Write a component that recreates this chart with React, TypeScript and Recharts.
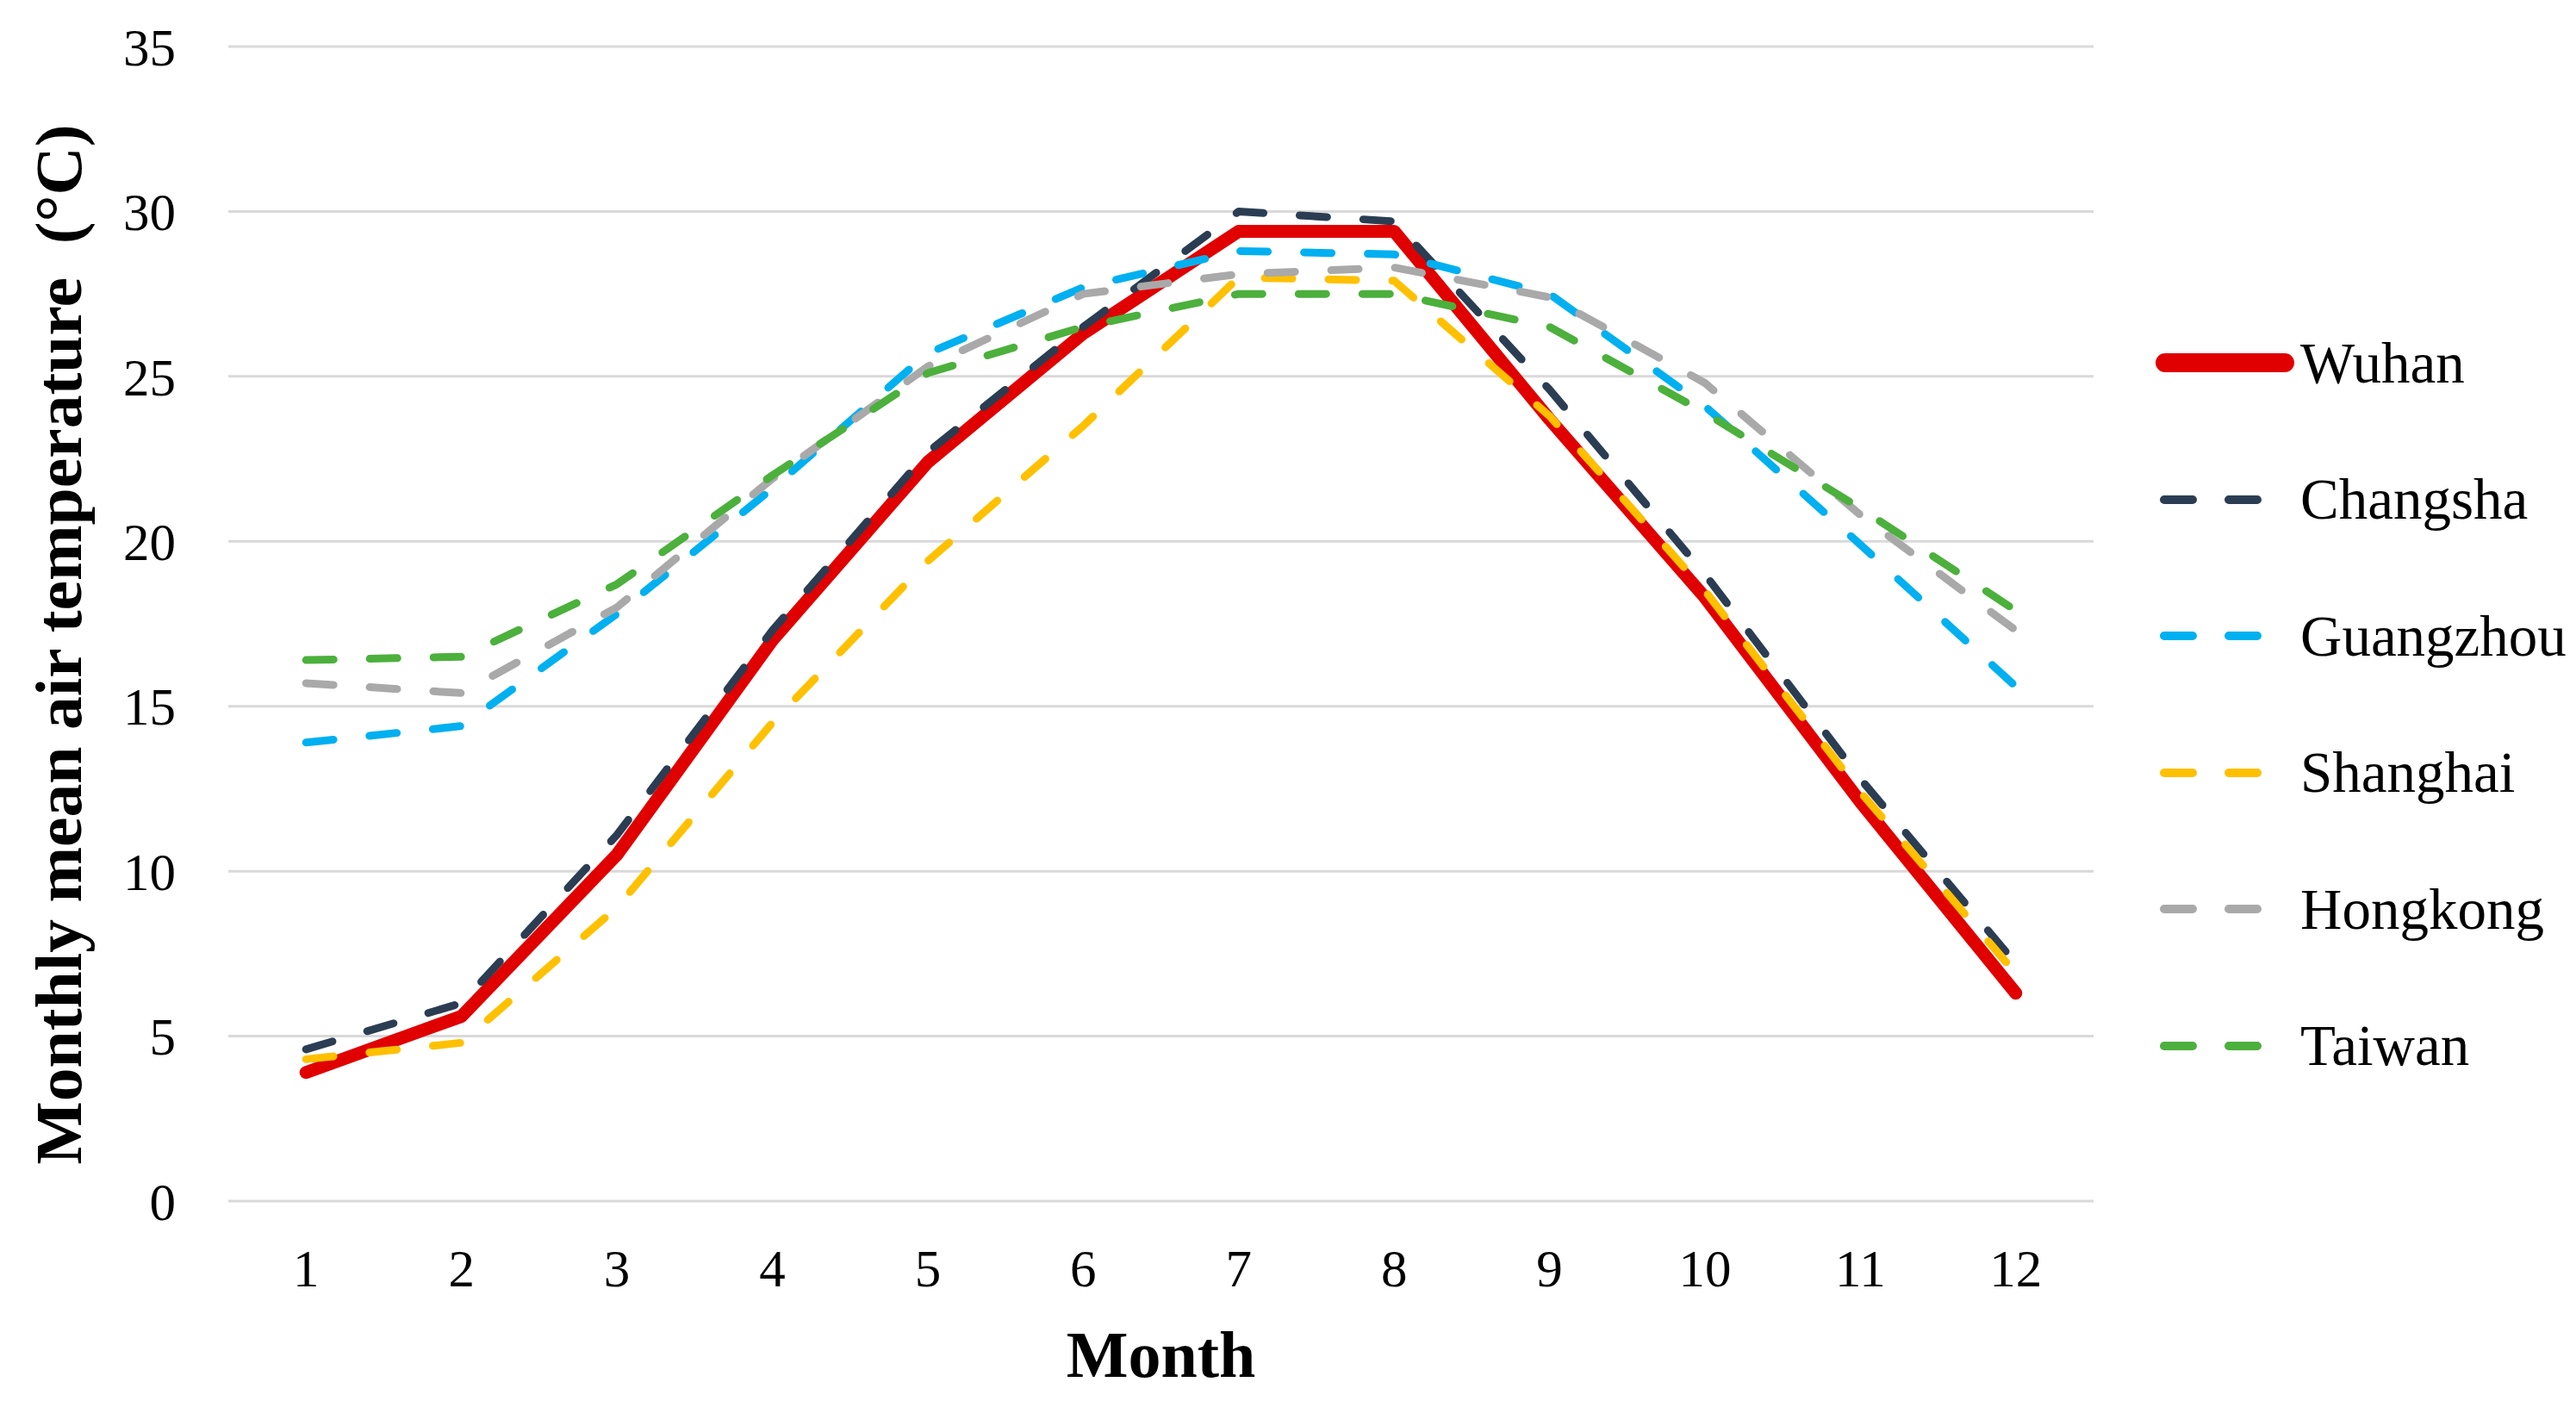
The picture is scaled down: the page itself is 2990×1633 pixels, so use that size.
import React from "react"
import {
  LineChart,
  Line,
  XAxis,
  YAxis,
  CartesianGrid,
  Legend,
  Label,
} from "recharts"

// Monthly mean air temperature (°C)
const months = [1, 2, 3, 4, 5, 6, 7, 8, 9, 10, 11, 12]
const wuhan = [3.9, 5.6, 10.5, 17.0, 22.4, 26.3, 29.4, 29.4, 23.7, 18.3, 12.1, 6.3]
const changsha = [4.6, 6.0, 11.1, 17.3, 22.7, 26.5, 30.0, 29.7, 24.6, 19.0, 12.8, 7.2]
const guangzhou = [13.9, 14.4, 17.8, 21.6, 25.7, 27.7, 28.8, 28.7, 27.5, 24.1, 19.9, 15.6]
const shanghai = [4.3, 4.8, 8.9, 14.5, 19.4, 23.5, 28.0, 27.9, 23.8, 18.5, 12.4, 6.9]
const hongkong = [15.7, 15.4, 18.0, 21.9, 25.3, 27.5, 28.1, 28.3, 27.4, 24.8, 20.8, 17.3]
const taiwan = [16.4, 16.5, 18.7, 22.0, 25.1, 26.5, 27.5, 27.5, 26.5, 23.9, 21.0, 17.9]

const yTicks = [0, 5, 10, 15, 20, 25, 30, 35]

const FONT = "'Times New Roman', 'Liberation Serif', serif"

const series = [
  { name: "Wuhan", values: wuhan, color: "#e00000", width: 15, dash: undefined },
  { name: "Changsha", values: changsha, color: "#2b3d52", width: 9, dash: "32 42" },
  { name: "Guangzhou", values: guangzhou, color: "#00b0f0", width: 9, dash: "32 42" },
  { name: "Shanghai", values: shanghai, color: "#ffc000", width: 9, dash: "32 42" },
  { name: "Hongkong", values: hongkong, color: "#a9a9a9", width: 9, dash: "32 42" },
  { name: "Taiwan", values: taiwan, color: "#4cb03c", width: 9, dash: "32 42" },
]

const chartData = months.map((m, i) => {
  const row: Record<string, number> = { month: m }
  series.forEach((s) => {
    row[s.name] = s.values[i]
  })
  return row
})

function renderLegend(props: any) {
  const payload = props.payload || []
  // keep the series order, not the alphabetical one
  const items = series
    .map((s) => ({ s, entry: payload.find((p: any) => p.value === s.name) }))
    .filter((x) => x.entry)
  return (
    <div style={{ fontFamily: FONT }}>
      {items.map(({ s, entry }: any) => (
        <div
          key={s.name}
          style={{ display: "flex", alignItems: "center", height: 158.5 }}
        >
          <svg width={168} height={30} style={{ display: "block" }}>
            {!s.dash ? (
              <line x1={11} y1={15} x2={150} y2={15} stroke={entry.color}
                strokeWidth={22} strokeLinecap="round" />
            ) : (
              <line x1={10} y1={15} x2={118} y2={15} stroke={entry.color}
                strokeWidth={10} strokeLinecap="round" strokeDasharray="33 42" />
            )}
          </svg>
          <span style={{ fontSize: 67, color: "#000", lineHeight: 1, whiteSpace: "nowrap" }}>
            {s.name}
          </span>
        </div>
      ))}
    </div>
  )
}

function YTitle() {
  return (
    <text
      x={94}
      y={748}
      transform="rotate(-90 94 748)"
      textAnchor="middle"
      fontFamily={FONT}
      fontWeight="bold"
      fontSize={76}
      fill="#000"
      textLength={1207}
      lengthAdjust="spacingAndGlyphs"
    >
      Monthly mean air temperature{"\u00a0\u00a0"}(°C)
    </text>
  )
}

export default function App() {
  return (
    <div style={{ position: "absolute", left: 0, top: 0, background: "#fff" }}>
      <LineChart
        width={2990}
        height={1633}
        data={chartData}
        margin={{ top: 54, right: 560, bottom: 89, left: 105 }}
      >
        <CartesianGrid vertical={false} stroke="#d9d9d9" strokeWidth={3} />
        <XAxis
          dataKey="month"
          type="number"
          domain={[0.5, 12.5]}
          ticks={months}
          interval={0}
          axisLine={false}
          tickLine={false}
          tickSize={0}
          tickMargin={56}
          height={150}
          tick={{ fill: "#000", fontSize: 61, fontFamily: FONT }}
        >
          <Label
            value="Month"
            position="bottom"
            offset={0}
            style={{ fontSize: 76, fontWeight: "bold", fontFamily: FONT, fill: "#000" }}
          />
        </XAxis>
        <YAxis
          domain={[0, 35]}
          ticks={yTicks}
          interval={0}
          axisLine={false}
          tickLine={false}
          tickSize={0}
          tickMargin={61}
          width={160}
          tick={{ fill: "#000", fontSize: 61, fontFamily: FONT }}
        >
          <Label content={() => <YTitle />} />
        </YAxis>
        <Legend
          layout="vertical"
          align="center"
          verticalAlign="middle"
          wrapperStyle={{ left: 2502, top: 342, width: 480 }}
          content={renderLegend}
        />
        {series.map((s) => (
          <Line
            key={s.name}
            type="linear"
            dataKey={s.name}
            name={s.name}
            stroke={s.color}
            strokeWidth={s.width}
            strokeDasharray={s.dash}
            strokeLinecap="round"
            strokeLinejoin="round"
            dot={false}
            activeDot={false}
            isAnimationActive={false}
          />
        ))}
      </LineChart>
    </div>
  )
}
